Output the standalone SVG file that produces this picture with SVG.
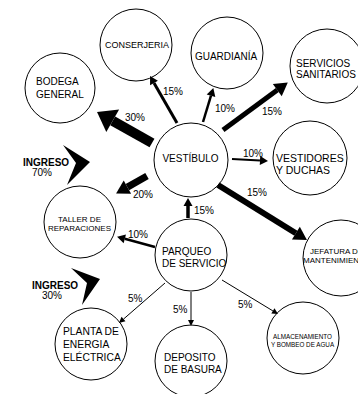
<svg xmlns="http://www.w3.org/2000/svg" width="358" height="394" viewBox="0 0 358 394">
<style>
text{font-family:"Liberation Sans",Arial,sans-serif;fill:#000}
.n{fill:#fff;stroke:#000;stroke-width:1}
.t{font-size:10px}
.p{font-size:10px}
.c{stroke:#000;fill:none}
.b{font-weight:bold;font-size:10px}
</style>
<defs>
<marker id="hXL" markerUnits="userSpaceOnUse" markerWidth="20" markerHeight="28" refX="0" refY="13" orient="auto" overflow="visible"><path d="M0,0 L18,13 L0,26 Z"/></marker>
<marker id="hL" markerUnits="userSpaceOnUse" markerWidth="14" markerHeight="16" refX="0" refY="7.5" orient="auto" overflow="visible"><path d="M0,0 L13,7.5 L0,15 Z"/></marker>
<marker id="hM" markerUnits="userSpaceOnUse" markerWidth="10" markerHeight="10" refX="0" refY="4.5" orient="auto" overflow="visible"><path d="M0,0 L8,4.5 L0,9 Z"/></marker>
<marker id="hS" markerUnits="userSpaceOnUse" markerWidth="8" markerHeight="8" refX="0" refY="3" orient="auto" overflow="visible"><path d="M0,0 L6,3 L0,6 Z"/></marker>
</defs>
<rect width="358" height="394" fill="#fff"/>
<g id="conserjeria"><circle class="n" cx="136" cy="45" r="36"/><text x="137" y="48" font-size="9" text-anchor="middle">CONSERJERIA</text></g>
<g id="bodega"><circle class="n" cx="60" cy="88" r="35"/><text class="t" x="36" y="85">BODEGA</text><text class="t" x="36" y="98">GENERAL</text></g>
<g id="guardiania"><circle class="n" cx="227" cy="53" r="36"/><text class="t" x="226" y="60" text-anchor="middle">GUARDIANÍA</text></g>
<g id="servicios"><circle class="n" cx="327" cy="66" r="37"/><text class="t" x="296" y="67">SERVICIOS</text><text class="t" x="296" y="78">SANITARIOS</text></g>
<g id="vestibulo"><circle class="n" cx="191" cy="160" r="37"/><text class="t" x="190.5" y="162" text-anchor="middle">VESTÍBULO</text></g>
<g id="vestidores"><circle class="n" cx="310" cy="158" r="37"/><text x="276" y="162" font-size="10.5">VESTIDORES</text><text x="276" y="174" font-size="10.5">Y DUCHAS</text></g>
<g id="jefatura"><circle class="n" cx="341" cy="258" r="38"/><text x="310" y="254" font-size="8">JEFATURA DE</text><text x="303" y="263" font-size="8">MANTENIMIENTO</text></g>
<g id="taller"><circle class="n" cx="80" cy="222" r="36"/><text x="79.5" y="222" font-size="8" text-anchor="middle">TALLER DE</text><text x="79.5" y="231" font-size="8" text-anchor="middle">REPARACIONES</text></g>
<g id="parqueo"><circle class="n" cx="191" cy="255" r="36"/><text class="t" x="162" y="255">PARQUEO</text><text class="t" x="162" y="267">DE SERVICIO</text></g>
<g id="planta"><circle class="n" cx="91" cy="344" r="36"/><text x="63" y="335" font-size="10.3">PLANTA DE</text><text x="63" y="348" font-size="10.3">ENERGIA</text><text x="63" y="361" font-size="10.3">ELÉCTRICA</text></g>
<g id="deposito"><circle class="n" cx="191" cy="361" r="36"/><text class="t" x="164" y="361">DEPOSITO</text><text class="t" x="164" y="373">DE BASURA</text></g>
<g id="almacenamiento"><circle class="n" cx="303" cy="338" r="36"/><text x="302.5" y="338.5" font-size="6.3" text-anchor="middle">ALMACENAMIENTO</text><text x="302.5" y="346.5" font-size="6.3" text-anchor="middle">Y BOMBEO DE AGUA</text></g>
<g id="ingreso70"><polygon points="63,145 90,162 67,185 76,163"/><text class="b" x="23" y="166">INGRESO</text><text class="p" x="32" y="176">70%</text></g>
<g id="ingreso30"><polygon points="71,268 100,279 82,305 87,283"/><text class="b" x="32" y="289">INGRESO</text><text class="p" x="42" y="299">30%</text></g>
<g id="connectors">
<line class="c" x1="152" y1="143" x2="112.7" y2="120.8" stroke-width="10" marker-end="url(#hXL)"/>
<line class="c" x1="177" y1="123" x2="154" y2="82.9" stroke-width="3" marker-end="url(#hM)"/>
<line class="c" x1="203" y1="122" x2="211" y2="95.7" stroke-width="2.5" marker-end="url(#hM)"/>
<line class="c" x1="223" y1="130" x2="277.3" y2="90.1" stroke-width="5" marker-end="url(#hL)"/>
<line class="c" x1="232" y1="159" x2="260" y2="160.6" stroke-width="2" marker-end="url(#hM)"/>
<line class="c" x1="218" y1="185" x2="295.9" y2="233.2" stroke-width="6" marker-end="url(#hL)"/>
<line class="c" x1="147" y1="176" x2="127.4" y2="187.1" stroke-width="7" marker-end="url(#hL)"/>
<line class="c" x1="188" y1="218" x2="188" y2="206" stroke-width="3.5" marker-end="url(#hM)"/>
<line class="c" x1="155" y1="247" x2="124.8" y2="238.8" stroke-width="2.5" marker-end="url(#hM)"/>
<line class="c" x1="165" y1="283" x2="123.5" y2="319.1" stroke-width="1" marker-end="url(#hS)"/>
<line class="c" x1="191" y1="292" x2="191" y2="320" stroke-width="1" marker-end="url(#hS)"/>
<line class="c" x1="222" y1="280" x2="272.9" y2="310.9" stroke-width="1" marker-end="url(#hS)"/>
<text class="p" x="125" y="121">30%</text>
<text class="p" x="163" y="95">15%</text>
<text class="p" x="215" y="112">10%</text>
<text class="p" x="262" y="115">15%</text>
<text class="p" x="243" y="157">10%</text>
<text class="p" x="247" y="196">15%</text>
<text class="p" x="133" y="198">20%</text>
<text class="p" x="194" y="214">15%</text>
<text class="p" x="128" y="238">10%</text>
<text class="p" x="128" y="302">5%</text>
<text class="p" x="173" y="313">5%</text>
<text class="p" x="238" y="308">5%</text>
</g>
</svg>
